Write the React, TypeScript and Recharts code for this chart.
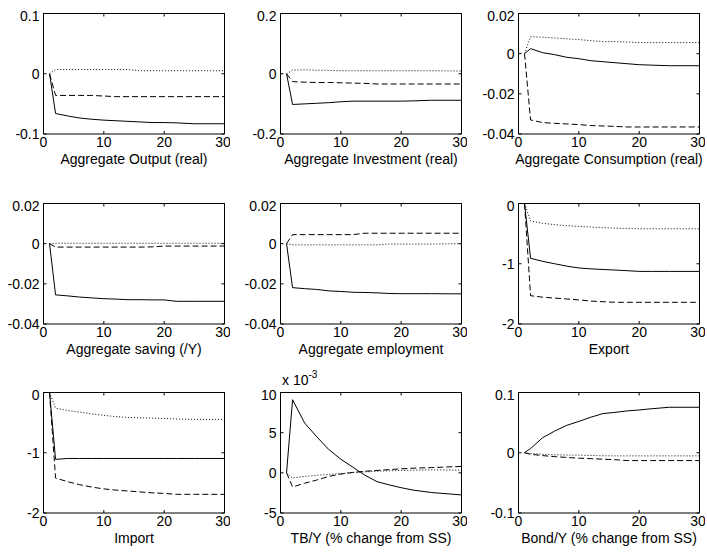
import { Line, LineChart, XAxis, YAxis } from "recharts";

// impulse responses, read at these periods (x runs 1..30)
const PERIODS = [1, 2, 4, 6, 8, 10, 12, 14, 16, 18, 20, 22, 25, 30];

const outputSolid = [0, -0.066, -0.07, -0.0735, -0.0755, -0.077, -0.078, -0.079, -0.08, -0.081, -0.081, -0.0815, -0.083, -0.083];
const outputDashed = [0, -0.036, -0.036, -0.036, -0.036, -0.037, -0.038, -0.038, -0.038, -0.038, -0.038, -0.038, -0.038, -0.038];
const outputDotted = [0, 0.007, 0.007, 0.007, 0.007, 0.007, 0.007, 0.007, 0.005, 0.005, 0.005, 0.005, 0.005, 0.005];

const investSolid = [0, -0.102, -0.1, -0.098, -0.096, -0.093, -0.091, -0.091, -0.091, -0.091, -0.091, -0.09, -0.088, -0.088];
const investDashed = [0, -0.026, -0.028, -0.029, -0.029, -0.03, -0.031, -0.032, -0.034, -0.034, -0.034, -0.034, -0.034, -0.034];
const investDotted = [0, 0.012, 0.013, 0.012, 0.011, 0.01, 0.01, 0.01, 0.01, 0.01, 0.01, 0.01, 0.01, 0.009];

const consSolid = [0, 0.0025, 0.0005, -0.0005, -0.0018, -0.0025, -0.0035, -0.004, -0.0045, -0.005, -0.0055, -0.0057, -0.006, -0.006];
const consDashed = [0, -0.033, -0.0343, -0.0347, -0.035, -0.0353, -0.0358, -0.036, -0.0362, -0.0365, -0.0365, -0.0365, -0.0365, -0.0365];
const consDotted = [0, 0.0085, 0.0082, 0.0078, 0.0074, 0.007, 0.0065, 0.006, 0.006, 0.0058, 0.0055, 0.0055, 0.0055, 0.0055];

const savingSolid = [0, -0.0255, -0.026, -0.0266, -0.027, -0.0274, -0.0276, -0.0279, -0.0279, -0.028, -0.028, -0.0287, -0.0287, -0.0287];
const savingDashed = [0, -0.0017, -0.0017, -0.0017, -0.0017, -0.0017, -0.0017, -0.0017, -0.0017, -0.0016, -0.0012, -0.0012, -0.0012, -0.0012];
const savingDotted = [0, 0.0002, 0.0002, 0.0002, 0.0002, 0.0002, 0.0002, 0.0002, 0.0002, 0.0002, 0.0002, 0.0002, 0.0002, 0.0002];

const emplSolid = [0, -0.0219, -0.0224, -0.0228, -0.0235, -0.0238, -0.0242, -0.0243, -0.0245, -0.0248, -0.0249, -0.0249, -0.0249, -0.025];
const emplDashed = [0, 0.0045, 0.0045, 0.0045, 0.0045, 0.0045, 0.0045, 0.0052, 0.0052, 0.0052, 0.0052, 0.0052, 0.0052, 0.0052];
const emplDotted = [0, -0.0006, -0.0006, -0.0006, -0.0006, -0.0006, -0.0006, -0.0006, -0.0006, -0.0002, -0.0002, -0.0002, -0.0002, 0];

const exportSolid = [0, -0.91, -0.96, -1.0, -1.04, -1.07, -1.085, -1.095, -1.105, -1.115, -1.127, -1.127, -1.127, -1.127];
const exportDashed = [0, -1.53, -1.555, -1.57, -1.585, -1.6, -1.62, -1.63, -1.64, -1.64, -1.64, -1.64, -1.64, -1.64];
const exportDotted = [0, -0.29, -0.33, -0.35, -0.37, -0.38, -0.39, -0.4, -0.41, -0.415, -0.42, -0.42, -0.42, -0.42];

const importSolid = [0, -1.11, -1.095, -1.095, -1.095, -1.095, -1.095, -1.095, -1.095, -1.095, -1.095, -1.095, -1.095, -1.095];
const importDashed = [0, -1.42, -1.48, -1.53, -1.57, -1.6, -1.62, -1.635, -1.65, -1.665, -1.675, -1.69, -1.69, -1.69];
const importDotted = [0, -0.26, -0.3, -0.325, -0.355, -0.38, -0.4, -0.415, -0.42, -0.425, -0.43, -0.44, -0.446, -0.446];

// trade balance, in units of 1e-3
const tbSolid = [0, 9.1, 6.2, 4.5, 2.9, 1.7, 0.7, -0.3, -1.1, -1.5, -1.85, -2.15, -2.45, -2.75];
const tbDashed = [0, -1.75, -1.3, -0.9, -0.45, -0.15, 0.05, 0.2, 0.3, 0.4, 0.5, 0.58, 0.65, 0.8];
const tbDotted = [0, -0.65, -0.45, -0.3, -0.2, -0.1, 0.05, 0.12, 0.2, 0.25, 0.3, 0.33, 0.37, 0.33];

const bondSolid = [0, 0.007, 0.025, 0.036, 0.0455, 0.052, 0.059, 0.065, 0.067, 0.0695, 0.071, 0.073, 0.0755, 0.0755];
const bondDashed = [0, -0.0025, -0.0047, -0.0065, -0.0078, -0.009, -0.0098, -0.0107, -0.0115, -0.013, -0.013, -0.013, -0.013, -0.013];
const bondDotted = [0, -0.0014, -0.0025, -0.0033, -0.0038, -0.004, -0.0045, -0.005, -0.0052, -0.0052, -0.0052, -0.0052, -0.0052, -0.0052];

const X_TICKS = [0, 10, 20, 30];
const TICKS_01 = [-0.1, 0, 0.1];
const TICKS_02 = [-0.2, 0, 0.2];
const TICKS_004 = [-0.04, -0.02, 0, 0.02];
const TICKS_2 = [-2, -1, 0];
const TICKS_TB = [-5, 0, 5, 10];

type Panel = {
  title: string;
  ticks: number[];
  solid: number[];
  dashed: number[];
  dotted: number[];
};

const PANELS: Panel[] = [
  { title: "Aggregate Output (real)", ticks: TICKS_01, solid: outputSolid, dashed: outputDashed, dotted: outputDotted },
  { title: "Aggregate Investment (real)", ticks: TICKS_02, solid: investSolid, dashed: investDashed, dotted: investDotted },
  { title: "Aggregate Consumption (real)", ticks: TICKS_004, solid: consSolid, dashed: consDashed, dotted: consDotted },
  { title: "Aggregate saving (/Y)", ticks: TICKS_004, solid: savingSolid, dashed: savingDashed, dotted: savingDotted },
  { title: "Aggregate employment", ticks: TICKS_004, solid: emplSolid, dashed: emplDashed, dotted: emplDotted },
  { title: "Export", ticks: TICKS_2, solid: exportSolid, dashed: exportDashed, dotted: exportDotted },
  { title: "Import", ticks: TICKS_2, solid: importSolid, dashed: importDashed, dotted: importDotted },
  { title: "TB/Y (% change from SS)", ticks: TICKS_TB, solid: tbSolid, dashed: tbDashed, dotted: tbDotted },
  { title: "Bond/Y (% change from SS)", ticks: TICKS_01, solid: bondSolid, dashed: bondDashed, dotted: bondDotted },
];

// subplot grid
const COL_X = [43, 280, 518];
const ROW_Y = [13, 203, 392];
const BOX_W = 181;
const BOX_H = 121;
const Y_AXIS_W = 50;
const X_AXIS_H = 32;
const BOTTOM_PAD = 8;

const FONT = '"Liberation Sans", Arial, Helvetica, sans-serif';
const tickStyle = { fill: "#000", fontSize: 14 };
const noLabel = () => <g />;

function SubPlot({ panel, left, top }: { panel: Panel; left: number; top: number }) {
  const data = PERIODS.map((t, i) => ({
    t,
    solid: panel.solid[i],
    dashed: panel.dashed[i],
    dotted: panel.dotted[i],
  }));
  const lo = panel.ticks[0];
  const hi = panel.ticks[panel.ticks.length - 1];

  return (
    <div style={{ position: "absolute", left: left - Y_AXIS_W, top: top - 5 }}>
      <LineChart
        width={Y_AXIS_W + BOX_W + 6}
        height={5 + BOX_H + X_AXIS_H + BOTTOM_PAD}
        data={data}
        margin={{ top: 4.5, right: 4.5, bottom: BOTTOM_PAD, left: 0.5 }}
      >
        <XAxis
          xAxisId="b"
          dataKey="t"
          type="number"
          domain={[0, 30]}
          ticks={X_TICKS}
          tickSize={-3}
          tickMargin={6}
          height={X_AXIS_H}
          stroke="#000"
          tick={tickStyle}
          label={{ value: panel.title, position: "insideBottom", offset: 2, fill: "#000", fontSize: 14 }}
        />
        <XAxis
          xAxisId="t"
          orientation="top"
          dataKey="t"
          type="number"
          domain={[0, 30]}
          ticks={X_TICKS}
          tickSize={-3}
          height={1}
          stroke="#000"
          tick={noLabel}
        />
        <YAxis
          yAxisId="l"
          type="number"
          domain={[lo, hi]}
          allowDataOverflow
          ticks={panel.ticks}
          tickSize={-3}
          tickMargin={7}
          width={Y_AXIS_W}
          stroke="#000"
          tick={tickStyle}
        />
        <YAxis
          yAxisId="r"
          orientation="right"
          type="number"
          domain={[lo, hi]}
          allowDataOverflow
          ticks={panel.ticks}
          tickSize={-3}
          width={1}
          stroke="#000"
          tick={noLabel}
        />
        <Line xAxisId="b" yAxisId="l" type="linear" dataKey="dotted" stroke="#000" strokeWidth={1} strokeDasharray="1 2" dot={false} isAnimationActive={false} />
        <Line xAxisId="b" yAxisId="l" type="linear" dataKey="dashed" stroke="#000" strokeWidth={1} strokeDasharray="6 3" dot={false} isAnimationActive={false} />
        <Line xAxisId="b" yAxisId="l" type="linear" dataKey="solid" stroke="#000" strokeWidth={1} dot={false} isAnimationActive={false} />
      </LineChart>
    </div>
  );
}

export default function App() {
  return (
    <div
      style={{
        position: "absolute",
        left: 0,
        top: 0,
        width: 707,
        height: 552,
        background: "#fff",
        fontFamily: FONT,
      }}
    >
      {PANELS.map((p, i) => (
        <SubPlot key={p.title} panel={p} left={COL_X[i % 3]} top={ROW_Y[Math.floor(i / 3)]} />
      ))}
      {/* exponent for the TB/Y axis */}
      <div style={{ position: "absolute", left: 282, top: 373, fontSize: 14, lineHeight: "14px", color: "#000" }}>
        x 10<span style={{ position: "relative", top: -7, fontSize: 10 }}>-3</span>
      </div>
    </div>
  );
}
